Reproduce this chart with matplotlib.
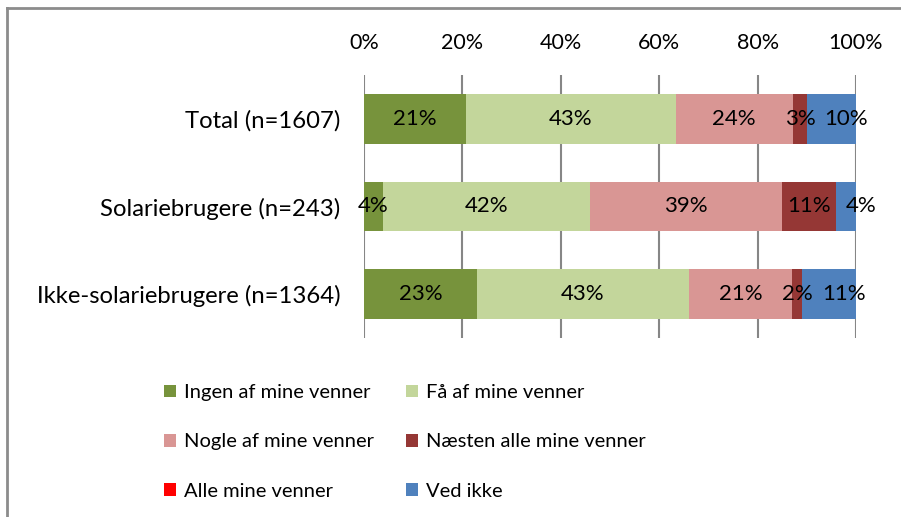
import matplotlib
matplotlib.use("Agg")
import matplotlib.pyplot as plt
from matplotlib.lines import Line2D
from matplotlib.patches import Patch

plt.rcParams['font.family'] = ['Lato', 'DejaVu Sans']

categories = ["Total (n=1607)", "Solariebrugere (n=243)", "Ikke-solariebrugere (n=1364)"]
series_names = ["Ingen af mine venner", "Få af mine venner", "Nogle af mine venner",
                "Næsten alle mine venner", "Alle mine venner", "Ved ikke"]
ingen = [20.7, 3.9, 23.0]
faa = [42.7, 42.1, 43.0]
nogle = [23.7, 39.0, 21.0]
naesten = [3.0, 11.0, 2.0]
alle = [0.0, 0.0, 0.0]
ved_ikke = [9.9, 4.0, 11.0]
labels_shown = [
    ["21%", "43%", "24%", "3%", "", "10%"],
    ["4%", "42%", "39%", "11%", "", "4%"],
    ["23%", "43%", "21%", "2%", "", "11%"],
]
tick_values = [0, 20, 40, 60, 80, 100]
tick_labels = ["0%", "20%", "40%", "60%", "80%", "100%"]

colors = ["#77933C", "#C3D69B", "#D99694", "#953735", "#FF0000", "#4F81BD"]
series = [ingen, faa, nogle, naesten, alle, ved_ikke]

FS_LEG = 14.5
FS_CAT = 17.2
FS_TICK = 15.5
FS_BAR = 16

fig = plt.figure(figsize=(9.01, 5.17), dpi=100)
ax = fig.add_axes([364/901, 1-338/517, (856-364)/901, (338-75)/517])

ypos = list(range(len(categories)))
left = [0.0]*len(categories)
for si, (vals, col) in enumerate(zip(series, colors)):
    ax.barh(ypos, vals, left=left, height=0.57, color=col, zorder=2, linewidth=0)
    for ci, v in enumerate(vals):
        txt = labels_shown[ci][si]
        if txt:
            cx = left[ci] + v/2
            if si == len(series)-1:
                cx = left[ci] + v/2 + 3.0
            ax.text(cx, ci, txt, ha='center', va='center', fontsize=FS_BAR,
                    color='black', zorder=3, clip_on=False)
    left = [l+v for l, v in zip(left, vals)]

ax.set_xlim(0, 100)
ax.set_ylim(2.5, -0.5)
ax.set_xticks(tick_values)
ax.set_xticklabels(tick_labels)
ax.xaxis.tick_top()
ax.tick_params(axis='x', length=0, pad=16, labelsize=FS_TICK)
ax.set_yticks(ypos)
ax.set_yticklabels(categories)
ax.tick_params(axis='y', length=0, pad=17, labelsize=FS_CAT)
for s in ax.spines.values():
    s.set_visible(False)
ax.grid(axis='x', color='#868686', linewidth=1.5, zorder=1)

handles = [Patch(facecolor=c, edgecolor='none') for c in colors]
order = [0, 2, 4, 1, 3, 5]
fig.legend([handles[i] for i in order], [series_names[i] for i in order],
           loc='upper left', bbox_to_anchor=(146/901, 1-366/517), ncol=2,
           frameon=False, fontsize=FS_LEG, handlelength=0.58, handleheight=0.58,
           handletextpad=0.4, labelspacing=1.6, columnspacing=1.6)

fig.add_artist(Line2D([7/901, 1.0], [1-8/517, 1-8/517], color='#8c8c8c', linewidth=2))
fig.add_artist(Line2D([7/901, 7/901], [0, 1-8/517], color='#8c8c8c', linewidth=2))

fig.savefig("out.png", dpi=100)
